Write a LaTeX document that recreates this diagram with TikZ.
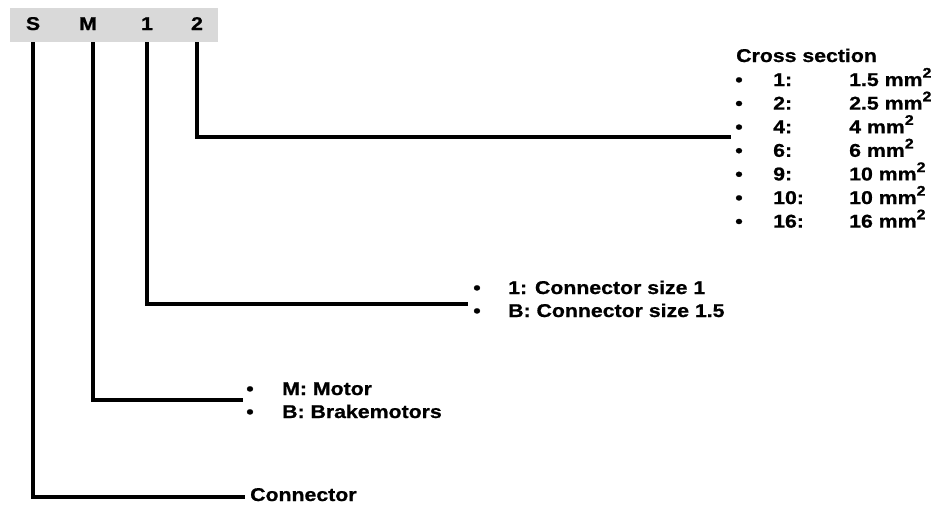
\documentclass[tikz,border=0pt]{standalone}
\usepackage{fontspec}
\newfontfamily\codefont{Liberation Sans}[FakeStretch=1.15,BoldFeatures={FakeBold=0.8}]
\usepackage{tikz}
\usetikzlibrary{calc,positioning}
\definecolor{headgray}{HTML}{D9D9D9}
\newcommand{\sqmm}{mm\raisebox{0.45em}{\fontsize{14}{14}\selectfont 2}}

\begin{document}
\begin{tikzpicture}[x=1pt,y=-1pt,
  lbl/.style={font=\codefont\bfseries\fontsize{18.5}{21}\selectfont,inner sep=0pt,anchor=base west},
  bul/.style={lbl,anchor=base},
  lead/.style={line width=3.2pt}]
  \useasboundingbox (0,0) rectangle (934,507);
  % type code header
  \node[fill=headgray,minimum width=208pt,minimum height=34pt,inner sep=0pt] (hdr) at (114,25) {};
  \node[bul] (s) at (33,30) {S};
  \node[bul] (m) at (88,30) {M};
  \node[bul] (one) at (147,30) {1};
  \node[bul] (two) at (197,30) {2};
  % cross section
  \node[lbl] (cs) at (736,62) {Cross section};
  \foreach \num/\val [count=\i from 0] in {1/1.5,2/2.5,4/4,6/6,9/10,10/10,16/16}{
    \node[bul] (csb\i) at (739,{86+23.6*\i}) {\textbullet};
    \node[lbl] (csn\i) at (773,{86+23.6*\i}) {\num:};
    \node[lbl] (csv\i) at (849,{86+23.6*\i}) {\val~\sqmm};
  }
  % connector size
  \node[bul] (szb1) at (477,294) {\textbullet};
  \node[lbl] (sz1) at (508,294) {1: Connector size 1};
  \node[bul] (szb2) at (477,317) {\textbullet};
  \node[lbl] (sz2) at (508,317) {B: Connector size 1.5};
  % motor type
  \node[bul] (mtb1) at (250,395) {\textbullet};
  \node[lbl] (mt1) at (282,395) {M: Motor};
  \node[bul] (mtb2) at (250,418) {\textbullet};
  \node[lbl] (mt2) at (282,418) {B: Brakemotors};
  \node[lbl] (conn) at (250,501) {Connector};
  % leader lines
  \coordinate (twoEnd) at (731,137);
  \coordinate (oneEnd) at (468,304);
  \coordinate (mEnd) at (243,400);
  \coordinate (sEnd) at (245,497);
  \draw[lead] (two |- hdr.south) |- (twoEnd);
  \draw[lead] (one |- hdr.south) |- (oneEnd);
  \draw[lead] ($(m |- hdr.south)+(5,0)$) |- (mEnd);
  \draw[lead] (s |- hdr.south) |- (sEnd);
\end{tikzpicture}
\end{document}
